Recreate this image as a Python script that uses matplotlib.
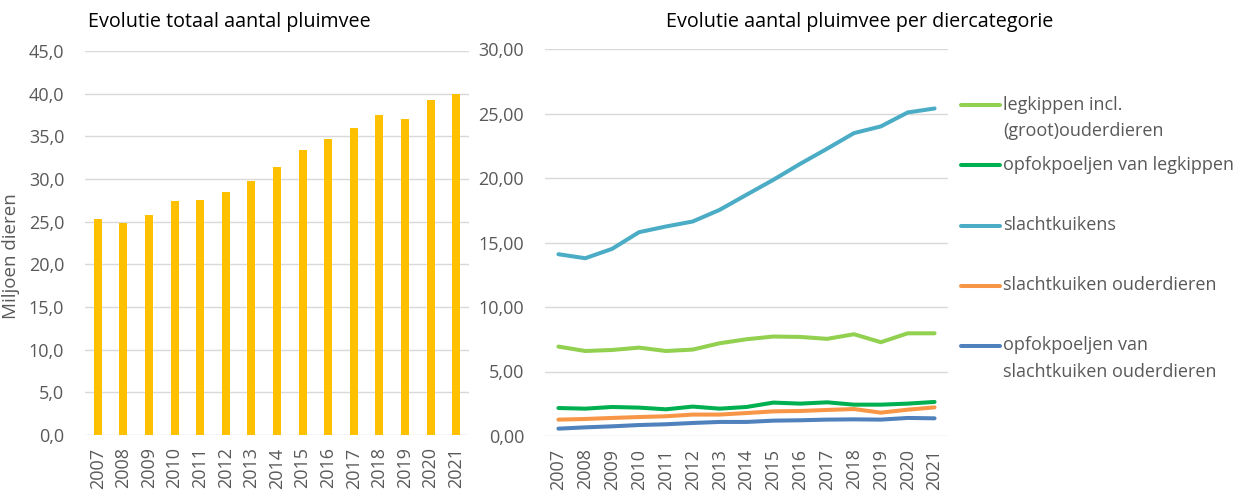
import matplotlib
matplotlib.use("Agg")
import matplotlib.pyplot as plt
from matplotlib.lines import Line2D
from matplotlib.ticker import FuncFormatter, MultipleLocator

plt.rcParams['font.family'] = ['Open Sans', 'DejaVu Sans']

years = [str(y) for y in range(2007, 2022)]
totaal = [25.3, 24.8, 25.75, 27.4, 27.55, 28.5, 29.8, 31.45, 33.4, 34.7, 36.0, 37.5, 37.05, 39.3, 40.0]

legkippen = [6.93, 6.59, 6.67, 6.85, 6.59, 6.70, 7.19, 7.50, 7.71, 7.68, 7.53, 7.89, 7.27, 7.96, 7.96]
opfok_leg = [2.17, 2.12, 2.25, 2.20, 2.07, 2.28, 2.12, 2.25, 2.59, 2.51, 2.61, 2.43, 2.43, 2.51, 2.64]
slachtkuikens = [14.09, 13.78, 14.51, 15.80, 16.24, 16.63, 17.53, 18.70, 19.86, 21.10, 22.27, 23.48, 24.00, 25.08, 25.39]
sk_ouder = [1.27, 1.32, 1.40, 1.47, 1.53, 1.66, 1.66, 1.78, 1.91, 1.94, 2.02, 2.09, 1.81, 2.04, 2.22]
opfok_sk = [0.57, 0.67, 0.75, 0.85, 0.91, 1.01, 1.09, 1.09, 1.19, 1.22, 1.27, 1.29, 1.27, 1.40, 1.37]

series = [
    ("legkippen incl.\n(groot)ouderdieren", legkippen, "#92D050"),
    ("opfokpoeljen van legkippen", opfok_leg, "#00B050"),
    ("slachtkuikens", slachtkuikens, "#4BACC6"),
    ("slachtkuiken ouderdieren", sk_ouder, "#F79646"),
    ("opfokpoeljen van\nslachtkuiken ouderdieren", opfok_sk, "#4F81BD"),
]

W, H = 1240, 493
fig = plt.figure(figsize=(W / 100, H / 100), dpi=100)

tick_col = "#595959"
grid_col = "#D9D9D9"

def style(ax):
    for s in ax.spines.values():
        s.set_visible(False)
    ax.tick_params(axis='both', length=0, colors=tick_col, labelsize=13)
    ax.tick_params(axis='y', pad=15)
    ax.tick_params(axis='x', rotation=90, pad=9)
    ax.yaxis.grid(True, color=grid_col, linewidth=1)
    ax.set_axisbelow(True)

# Left chart
ax1 = fig.add_axes([85 / W, 1 - 435 / H, (469 - 85) / W, (435 - 51) / H])
x = list(range(len(years)))
ax1.bar(x, totaal, width=0.32, color="#FFC000", zorder=2)
ax1.set_xlim(-0.5, len(years) - 0.5)
ax1.set_ylim(0, 45)
ax1.yaxis.set_major_locator(MultipleLocator(5))
ax1.yaxis.set_major_formatter(FuncFormatter(lambda v, p: f"{v:.1f}".replace('.', ',')))
ax1.set_xticks(x)
ax1.set_xticklabels(years)
style(ax1)
fig.text(11 / W, 1 - 256 / H, "Miljoen dieren", color=tick_col, fontsize=13.5,
         rotation=90, ha='center', va='center')
fig.text(88 / W, 1 - 22 / H, "Evolutie totaal aantal pluimvee", fontsize=14.2,
         color="#000000", ha='left', va='center')

# Right chart
ax2 = fig.add_axes([545 / W, 1 - 436 / H, (948 - 545) / W, (436 - 49) / H])
for label, vals, col in series:
    ax2.plot(x, vals, color=col, linewidth=2.9, solid_capstyle='round', zorder=3)
ax2.set_xlim(-0.5, len(years) - 0.5)
ax2.set_ylim(0, 30)
ax2.yaxis.set_major_locator(MultipleLocator(5))
ax2.yaxis.set_major_formatter(FuncFormatter(lambda v, p: f"{v:.2f}".replace('.', ',')))
ax2.set_xticks(x)
ax2.set_xticklabels(years)
style(ax2)
fig.text(860 / W, 1 - 22 / H, "Evolutie aantal pluimvee per diercategorie", fontsize=14.2,
         color="#000000", ha='center', va='center')

# Legend (manual, handles aligned with first text line)
handle_y = [105, 165.5, 225.5, 285.5, 345.5]
for (label, vals, col), hy in zip(series, handle_y):
    yf = 1 - hy / H
    fig.add_artist(Line2D([961 / W, 1000 / W], [yf, yf], color=col, linewidth=2.9,
                          solid_capstyle='round', transform=fig.transFigure))
    fig.text(1003 / W, 1 - (hy - 9) / H, label, fontsize=13, color=tick_col,
             ha='left', va='top', linespacing=1.6)

fig.savefig("out.png", dpi=100)
